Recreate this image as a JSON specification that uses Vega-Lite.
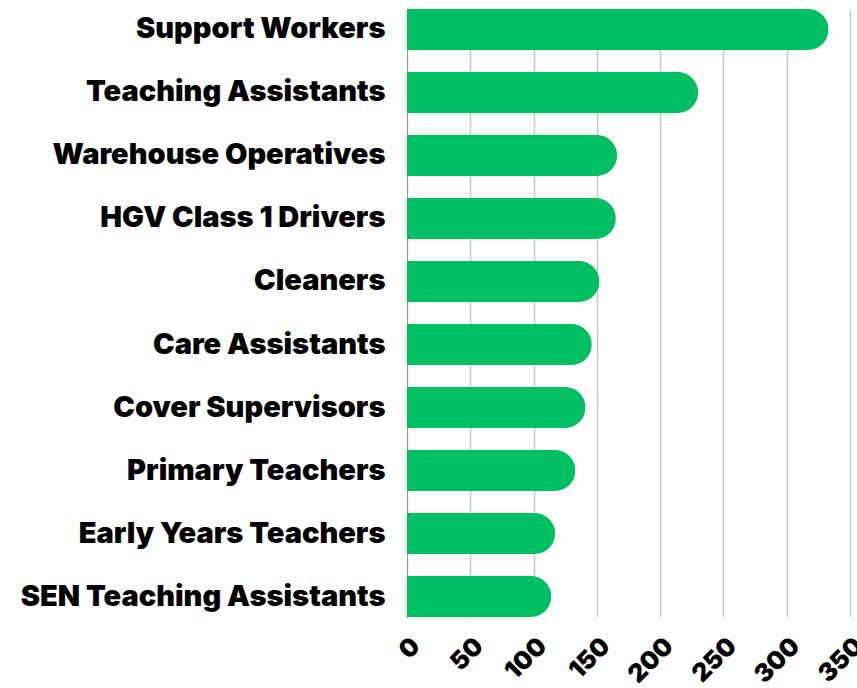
{
  "$schema": "https://vega.github.io/schema/vega-lite/v6.json",
  "width": 443,
  "height": 608,
  "autosize": {"type": "none"},
  "padding": {"left": 407, "top": 9, "right": 7, "bottom": 71},
  "background": "white",
  "data": {
    "values": [
      {"role": "Support Workers", "count": 333},
      {"role": "Teaching Assistants", "count": 230},
      {"role": "Warehouse Operatives", "count": 166},
      {"role": "HGV Class 1 Drivers", "count": 165},
      {"role": "Cleaners", "count": 152},
      {"role": "Care Assistants", "count": 146},
      {"role": "Cover Supervisors", "count": 141},
      {"role": "Primary Teachers", "count": 133},
      {"role": "Early Years Teachers", "count": 117},
      {"role": "SEN Teaching Assistants", "count": 114}
    ]
  },
  "config": {
    "view": {"stroke": null},
    "font": "Inter"
  },
  "mark": {"type": "bar", "color": "#00BF63", "cornerRadiusEnd": 20.5},
  "encoding": {
    "y": {
      "field": "role",
      "type": "nominal",
      "sort": null,
      "title": null,
      "scale": {"paddingInner": 0.35, "paddingOuter": 0},
      "axis": {
        "ticks": false,
        "domain": true,
        "domainColor": "#999999",
        "domainWidth": 1,
        "labelFontSize": 29,
        "labelFontWeight": 900,
        "labelColor": "#000000",
        "labelPadding": 22,
        "labelLimit": 0
      }
    },
    "x": {
      "field": "count",
      "type": "quantitative",
      "title": null,
      "scale": {"domain": [0, 350], "nice": false},
      "axis": {
        "values": [0, 50, 100, 150, 200, 250, 300, 350],
        "grid": true,
        "gridColor": "#c8c8c8",
        "gridWidth": 1.5,
        "ticks": false,
        "domain": false,
        "labelAngle": -45,
        "labelFontSize": 25,
        "labelFontWeight": 900,
        "labelColor": "#000000",
        "labelPadding": 16,
        "labelFlush": false,
        "labelOverlap": false
      }
    }
  }
}
